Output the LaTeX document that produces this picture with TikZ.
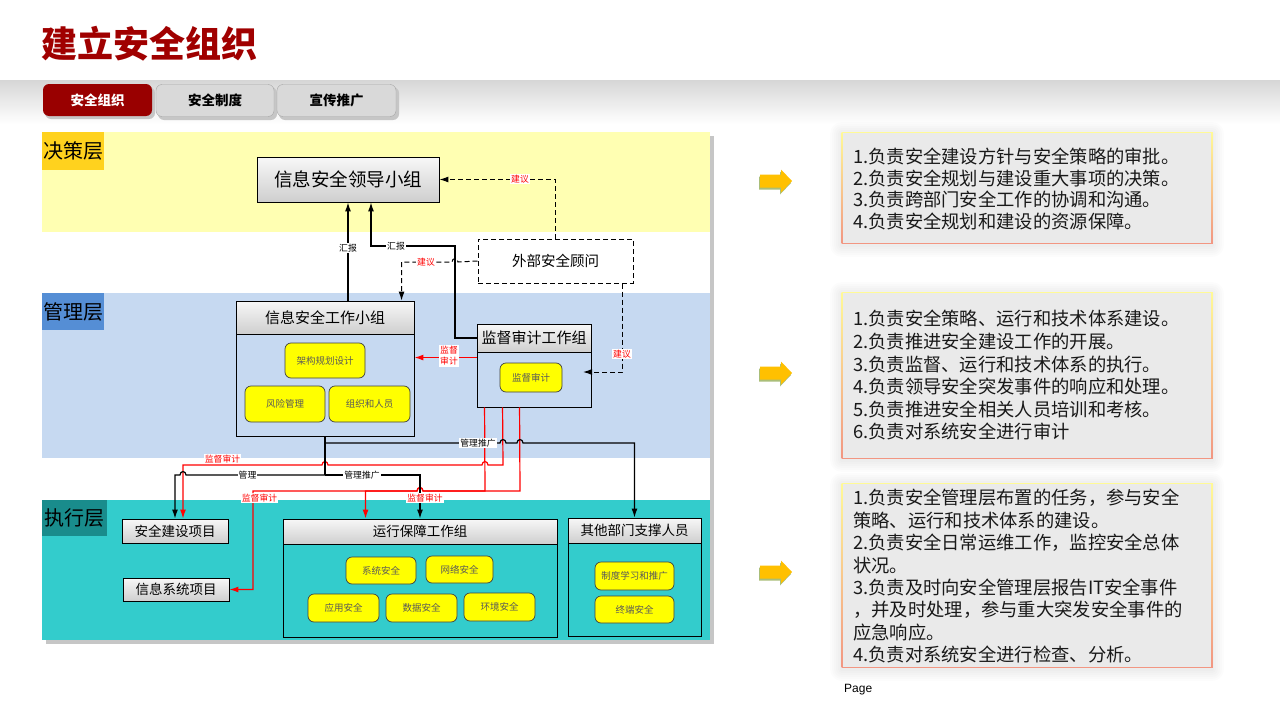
\documentclass[tikz,border=0pt]{standalone}
\usepackage{fontspec}
\setmainfont{Noto Sans CJK SC}
\newfontfamily\lib{Liberation Sans}
\usetikzlibrary{arrows.meta,calc}
\definecolor{titred}{RGB}{160,0,0}
\definecolor{tabred}{RGB}{153,0,0}
\definecolor{yband}{RGB}{255,255,178}
\definecolor{bband}{RGB}{198,217,241}
\definecolor{tband}{RGB}{51,204,204}
\definecolor{ylab}{RGB}{255,210,30}
\definecolor{blab}{RGB}{85,142,213}
\definecolor{tlab}{RGB}{25,140,140}
\definecolor{nodey}{RGB}{255,255,0}
\definecolor{boxfill}{RGB}{234,234,234}
\definecolor{bordtop}{RGB}{255,250,150}
\definecolor{bordbot}{RGB}{242,150,130}
\definecolor{arrgold}{RGB}{255,192,0}
\definecolor{arrshad}{RGB}{170,190,120}
\tikzset{
  lay/.style={inner sep=0, font=\fontsize{20}{20}\selectfont},
  hdr/.style={draw=black, line width=0.9pt, top color=gray!6, bottom color=gray!38, inner sep=0},
  bodybox/.style={draw=black, line width=0.9pt, inner sep=0},
  ynode/.style={draw=black!75, line width=0.7pt, fill=nodey, rounded corners=6pt, inner sep=0,
    font=\fontsize{9.5}{10}\selectfont, text=black!65},
  lbl/.style={fill=white, inner sep=1pt, font=\fontsize{8.8}{9}\selectfont},
  rlbl/.style={lbl, text=red},
  blk/.style={line width=1.2pt, black},
  rd/.style={line width=1.2pt, red},
  arr/.style={-{Latex[length=9pt,width=6pt]}},
  dsh/.style={line width=1pt, dash pattern=on 5pt off 3pt},
  tabbox/.style={rounded corners=6pt, inner sep=0, minimum height=32,
    font=\fontsize{13.5}{14}\selectfont\bfseries},
  bline/.style={anchor=west, inner sep=0, font=\fontsize{18.3}{22}\selectfont,
    text height=16, text depth=2.4, text=black!90},
}
\begin{document}
\begin{tikzpicture}[x=1pt,y=-1pt]
\useasboundingbox (0,0) rectangle (1280,720);
\fill[white] (0,0) rectangle (1280,720);

% top band
\shade[top color=gray!32, bottom color=white] (0,80) rectangle (1280,124);
\node[font=\fontsize{36}{36}\selectfont\bfseries, text=titred, anchor=west, inner sep=0] (title) at (41,44) {建立安全组织};

% tabs
\fill[gray!45, rounded corners=6pt] (45,87) rectangle (155,119);
\fill[gray!45, rounded corners=6pt] (158,87) rectangle (277,120);
\fill[gray!45, rounded corners=6pt] (279,87) rectangle (399,120);
\node[tabbox, fill=tabred, text=white, minimum width=109] (t1) at (97.5,100) {安全组织};
\node[tabbox, fill=gray!30, draw=gray!70, minimum width=118] (t2) at (215,100.5) {安全制度};
\node[tabbox, fill=gray!30, draw=gray!70, minimum width=119] (t3) at (336.5,100.5) {宣传推广};

% diagram background
\fill[gray!45] (46,136) rectangle (714,644);
\fill[white] (42,132) rectangle (710,640);
\fill[yband] (42,132) rectangle (710,232);
\fill[bband] (42,293) rectangle (710,458);
\fill[tband] (42,500) rectangle (710,640);
\node[lay, fill=ylab, minimum width=62, minimum height=38] (L1) at (73,151) {决策层};
\node[lay, fill=blab, minimum width=62, minimum height=37] (L2) at (73,311.5) {管理层};
\node[lay, fill=tlab, minimum width=65, minimum height=36] (L3) at (74.5,518) {执行层};

% decision layer
\node[hdr, minimum width=182, minimum height=45, font=\fontsize{18.5}{19}\selectfont] (lead) at (348,179.5) {信息安全领导小组};
\node[draw, dsh, fill=white, minimum width=155, minimum height=44, inner sep=0,
  font=\fontsize{14.5}{15}\selectfont] (ext) at (555.5,261) {外部安全顾问};

% management layer
\node[bodybox, fill=bband, minimum width=178, minimum height=102] (wgb) at (325,385) {};
\node[hdr, minimum width=178, minimum height=33, font=\fontsize{15}{15}\selectfont] (wg) at (325,317.5) {信息安全工作小组};
\node[ynode, minimum width=80, minimum height=35] (n1) at (325,360.5) {架构规划设计};
\node[ynode, minimum width=80, minimum height=36] (n2) at (285,404) {风险管理};
\node[ynode, minimum width=81, minimum height=36] (n3) at (369.5,404) {组织和人员};

\node[bodybox, fill=bband, minimum width=114, minimum height=55] (audb) at (534,379.5) {};
\node[hdr, minimum width=114, minimum height=28, font=\fontsize{15}{15}\selectfont] (aud) at (534,338) {监督审计工作组};
\node[ynode, minimum width=62, minimum height=29] (n4) at (531,377.5) {监督审计};

% execution layer
\node[hdr, minimum width=106, minimum height=24, font=\fontsize{13.5}{14}\selectfont] (sp) at (175,531) {安全建设项目};
\node[hdr, minimum width=106, minimum height=23, font=\fontsize{13.5}{14}\selectfont] (isp) at (176,589.5) {信息系统项目};

\node[bodybox, fill=tband, minimum width=274, minimum height=93] (opsb) at (420,590.5) {};
\node[hdr, minimum width=274, minimum height=25, font=\fontsize{13.5}{14}\selectfont] (ops) at (420,531.5) {运行保障工作组};
\node[ynode, minimum width=70, minimum height=27] (n5) at (381,570.5) {系统安全};
\node[ynode, minimum width=67, minimum height=27] (n6) at (459.5,569.5) {网络安全};
\node[ynode, minimum width=71, minimum height=28] (n7) at (343.5,608) {应用安全};
\node[ynode, minimum width=71, minimum height=28] (n8) at (421.5,608) {数据安全};
\node[ynode, minimum width=71, minimum height=28] (n9) at (499.5,607) {环境安全};

\node[bodybox, fill=tband, minimum width=133, minimum height=93] (othb) at (634.5,589.5) {};
\node[hdr, minimum width=133, minimum height=25, font=\fontsize{13.5}{14}\selectfont] (oth) at (634.5,530.5) {其他部门支撑人员};
\node[ynode, minimum width=79, minimum height=28] (n10) at (634.5,576) {制度学习和推广};
\node[ynode, minimum width=79, minimum height=27] (n11) at (634.5,609.5) {终端安全};

% connectors: decision / management
\draw[blk,arr] (wg.north -| lead.south) -- (lead.south);
\coordinate (hb) at ($(lead.south)+(23,0)$);
\draw[blk,arr] (aud.west) -- (455,338) -- (455,246) -- (hb |- 0,246) -- (hb);
\draw[dsh,arr] (ext.north) |- (lead.east);
\coordinate (wgin) at ($(wg.north west)+(166,0)$);
\draw[dsh,arr] (ext.west) -- (458,262) .. controls (458,257.5) and (452,257.5) .. (452,262) -- (wgin |- 0,262) -- (wgin);
\coordinate (extb) at ($(ext.south east)+(-11,0)$);
\coordinate (audin) at (583,372);
\draw[dsh,arr] (extb) |- (audin);
\draw[rd,arr] ($(audb.north west)+(0,6)$) -- ($(wgb.north east)+(0,24)$);

% connectors: to execution layer
\coordinate (jb) at (325,475);
\coordinate (jt) at (325,443);
\coordinate (ra) at ($(audb.south west)+(26,0)$);
\coordinate (rb) at ($(audb.south west)+(8,0)$);
\coordinate (rc) at ($(audb.south west)+(43,0)$);
\coordinate (spr) at ($(sp.north)+(8,0)$);
\coordinate (opr) at ($(ops.north west)+(83,0)$);

\draw[rd,arr] (ra) -- (503,465) -- (488,465) .. controls (488,460.5) and (482,460.5) .. (482,465)
  -- (328,465) .. controls (328,460.5) and (322,460.5) .. (322,465) -- (spr |- 0,465) -- (spr);
\draw[rd,arr] (rb) -- (485,491) -- (423,491) .. controls (423,486.5) and (417,486.5) .. (417,491)
  -- (253,491) -- (253,589.5) -- (isp.east);
\draw[rd,arr] (rc) -- (520,491) -- (423,491) .. controls (423,486.5) and (417,486.5) .. (417,491)
  -- (opr |- 0,491) -- (opr);

\draw[blk] (wgb.south) -- (jb);
\draw[blk,arr] (jb) -- (186,475) .. controls (186,470.5) and (180,470.5) .. (180,475) -- (sp.north |- 0,475) -- (sp.north);
\draw[blk,arr] (jb) -- (ops.north |- 0,475) -- (ops.north);
\draw[blk,arr] (jt) -- (500,443) .. controls (500,438.5) and (506,438.5) .. (506,443)
  -- (517,443) .. controls (517,438.5) and (523,438.5) .. (523,443) -- (oth.north |- 0,443) -- (oth.north);

% labels
\node[lbl] (lb1) at (348,248) {汇报};
\node[lbl] (lb2) at (396,246) {汇报};
\node[rlbl] (lb3) at (520,179) {建议};
\node[rlbl] (lb4) at (426,262) {建议};
\node[rlbl] (lb5) at (622,354) {建议};
\node[rlbl, align=center, font=\fontsize{8.8}{11}\selectfont] (lb6) at (449,356) {监督\\审计};
\node[lbl] (lb7) at (478,443) {管理推广};
\node[lbl] (lb8) at (247.5,475) {管理};
\node[lbl] (lb9) at (362,475) {管理推广};
\node[rlbl] (lb10) at (222.5,459) {监督审计};
\node[rlbl] (lb11) at (259.5,498) {监督审计};
\node[rlbl] (lb12) at (425,498) {监督审计};

% right side: gold arrows
\foreach \c [count=\k] in {181,373,572} {
  \fill[arrshad] (759,\c-4.5) -- (780,\c-4.5) -- (780,\c-9.5) -- (791,\c+2) -- (780,\c+13.5) -- (780,\c+8.5) -- (759,\c+8.5) -- cycle;
  \fill[arrgold] (760,\c-6.5) -- (781,\c-6.5) -- (781,\c-11.5) -- (792,\c) -- (781,\c+11.5) -- (781,\c+6.5) -- (760,\c+6.5) -- cycle;
}

% right side: text boxes
\foreach \t/\b in {132/243, 292/458, 483/667} {
  \foreach \s in {12,10,8,6,4,2}
    \fill[black, opacity=0.012, rounded corners=\s] (842-\s,\t-\s+2) rectangle (1212+\s,\b+\s+2);
  \fill[boxfill] (842,\t) rectangle (1212,\b);
  \shade[top color=bordtop, bottom color=bordbot] (841.5,\t) rectangle (842.5,\b);
  \shade[top color=bordtop, bottom color=bordbot] (1211.5,\t) rectangle (1212.5,\b);
  \draw[bordtop, line width=1pt] (841.5,\t) -- (1212.5,\t);
  \draw[bordbot, line width=1pt] (841.5,\b) -- (1212.5,\b);
}
\foreach \l [count=\i from 0] in {1.负责安全建设方针与安全策略的审批。, 2.负责安全规划与建设重大事项的决策。, 3.负责跨部门安全工作的协调和沟通。, 4.负责安全规划和建设的资源保障。}
  \node[bline] (ba\i) at (853,156.5+21.8*\i) {\l};
\foreach \l [count=\i from 0] in {1.负责安全策略、运行和技术体系建设。, 2.负责推进安全建设工作的开展。, 3.负责监督、运行和技术体系的执行。, 4.负责领导安全突发事件的响应和处理。, 5.负责推进安全相关人员培训和考核。, 6.负责对系统安全进行审计}
  \node[bline] (bb\i) at (853,319+22.6*\i) {\l};
\foreach \l [count=\i from 0] in {1.负责安全管理层布置的任务，参与安全, 策略、运行和技术体系的建设。, 2.负责安全日常运维工作，监控安全总体, 状况。, 3.负责及时向安全管理层报告IT安全事件, ，并及时处理，参与重大突发安全事件的, 应急响应。, 4.负责对系统安全进行检查、分析。}
  \node[bline] (bc\i) at (853,498+22.4*\i) {\l};

\node[font=\lib\fontsize{12}{12}\selectfont, anchor=west, inner sep=0] (pg) at (844,690) {Page};
\end{tikzpicture}
\end{document}
